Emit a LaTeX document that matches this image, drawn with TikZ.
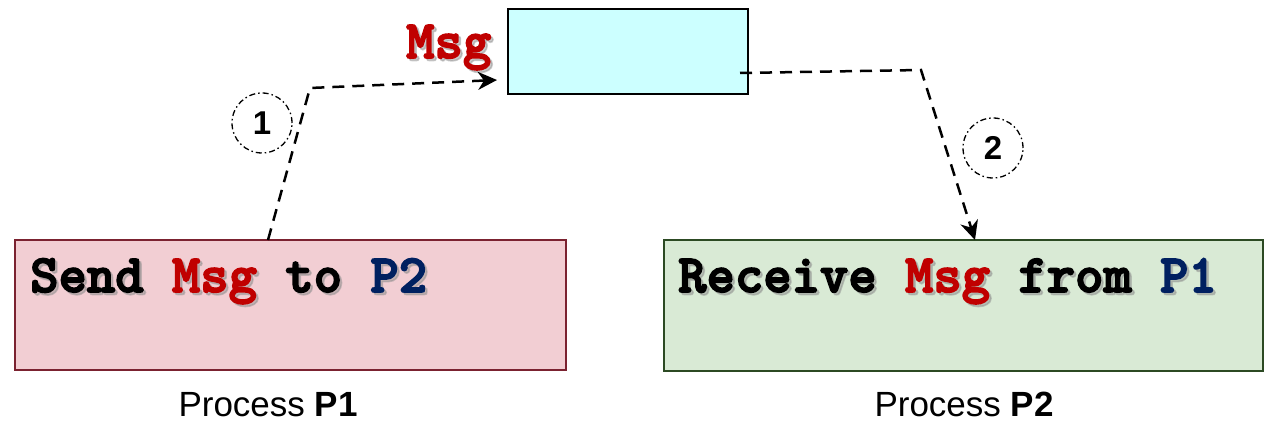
\documentclass[tikz,border=0pt]{standalone}
\usepackage{fontspec}
\setmainfont{Liberation Sans}
\newfontfamily\courfont{lmmonolt10-bold.otf}[FakeBold=3]
\usetikzlibrary{arrows.meta,calc}
\definecolor{msgred}{HTML}{C00000}
\definecolor{pblue}{HTML}{002060}
\definecolor{cyanfill}{HTML}{CCFFFF}
\definecolor{pinkfill}{HTML}{F2CED3}
\definecolor{pinkdraw}{HTML}{7B2230}
\definecolor{greenfill}{HTML}{D9EAD5}
\definecolor{greendraw}{HTML}{2C4A23}
\newif\ifshd
\newcommand\hl[2]{\ifshd#2\else\textcolor{#1}{#2}\fi}
\newcommand\monof{\courfont\fontsize{54}{60}\selectfont}
\tikzset{
  procbox/.style={draw, line width=2pt, inner sep=0pt},
  monotxt/.style={anchor=base west, inner sep=0pt, font=\monof},
  shd/.style={monotxt, text=black!45, opacity=0.45},
  flow/.style={line width=2.5pt, dash pattern=on 12pt off 8pt},
  tip/.style={-{Stealth[length=19pt,width=18pt,inset=6pt]}},
  stepcirc/.style={circle, draw, line width=1.3pt, minimum size=60pt, inner sep=0pt,
    dash pattern=on 6pt off 3pt on 1.5pt off 3pt, font=\bfseries\fontsize{33}{33}\selectfont},
  caption/.style={anchor=base, inner sep=0pt, font=\fontsize{35}{40}\selectfont},
}
\begin{document}
\begin{tikzpicture}[x=1pt,y=-1pt]
\useasboundingbox (0,0) rectangle (1266,446);
% boxes
\node[procbox, fill=cyanfill, draw=black, minimum width=240pt, minimum height=85pt] (msgbox) at (628,51.5) {};
\node[procbox, fill=pinkfill, draw=pinkdraw, minimum width=551pt, minimum height=130pt] (p1) at (290.5,305) {};
\node[procbox, fill=greenfill, draw=greendraw, minimum width=599pt, minimum height=131pt] (p2) at (963.5,305.5) {};
% texts
\node[shd] (t1s) at (32.5,294.5) {\shdtrue Send \hl{msgred}{Msg} to \hl{pblue}{P2}};
\node[monotxt] (t1) at (30,292) {Send \hl{msgred}{Msg} to \hl{pblue}{P2}};
\node[shd] (t2s) at (680.5,294.5) {\shdtrue Receive \hl{msgred}{Msg} from \hl{pblue}{P1}};
\node[monotxt] (t2) at (678,292) {Receive \hl{msgred}{Msg} from \hl{pblue}{P1}};
\node[shd] (msgs) at (408.5,60.5) {Msg};
\node[monotxt, text=msgred] (msg) at (406,58) {Msg};
% captions
\node[caption] (cap1) at (268,416) {Process \textbf{P1}};
\node[caption] (cap2) at (964,416) {Process \textbf{P2}};
% step circles
\node[stepcirc] (c1) at (262,123) {1};
\node[stepcirc] (c2) at (993,148) {2};
% connectors
\coordinate (a1s) at (268,240);
\coordinate (a1c) at (310,88);
\coordinate (a1e) at (497,80);
\coordinate (a2s) at (740,73);
\coordinate (a2c) at (921,70);
\coordinate (a2e) at (975,240);
\draw[flow, tip] (a1s) -- (a1c) -- (a1e);
\draw[flow, tip] (a2s) -- (a2c) -- (a2e);
\end{tikzpicture}
\end{document}
